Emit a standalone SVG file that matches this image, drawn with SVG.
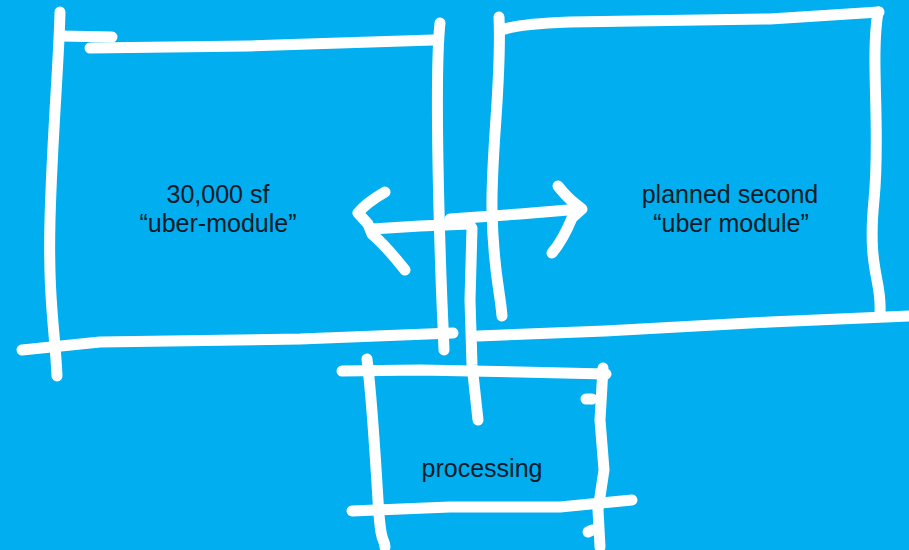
<svg xmlns="http://www.w3.org/2000/svg" width="909" height="550" viewBox="0 0 909 550">
<style>
.s{fill:none;stroke:#ffffff;stroke-width:11;stroke-linecap:round;stroke-linejoin:round}
.t{font-family:"Liberation Sans",Arial,sans-serif;font-size:25px;fill:#0b1a28;text-anchor:middle}
</style>
<rect width="909" height="550" fill="#01AEEF"/>
<g id="box1">
<path class="s" d="M60 12 C59 60 52 140 50 220 S55 330 57 376"/>
<path class="s" d="M60 36 L112 37"/>
<path class="s" d="M90 48 L250 46 L433 40"/>
<path class="s" d="M440 23 C436 60 437 130 439 210 S442 300 444 350"/>
<path class="s" d="M22 350 L100 342 L300 339 L453 333"/>
<text class="t" x="218" y="203">30,000 sf</text>
<text class="t" x="218" y="232">“uber-module”</text>
</g>
<g id="box2">
<path class="s" d="M499 17 C502 80 491 150 492 210 S500 290 502 316"/>
<path class="s" d="M505 29 Q520 24 570 22 L770 19 L879 12"/>
<path class="s" d="M878 12 C870 60 881 130 874 200 S882 280 880 312"/>
<path class="s" d="M478 336 L605 331 L770 322 L909 316"/>
<text class="t" x="730" y="203">planned second</text>
<text class="t" x="731" y="232">“uber module”</text>
</g>
<g id="processing">
<path class="s" d="M342 371 L420 370 L520 372 L606 374"/>
<path class="s" d="M367 359 C372 400 375 450 378 500 S384 535 385 547"/>
<path class="s" d="M603 368 L600 420 L604 470 L598 510 L600 547"/>
<path class="s" d="M586 399 L592 399"/>
<path class="s" d="M588 532 L592 530"/>
<path class="s" d="M352 511 L450 507 L560 507 L632 500"/>
<text class="t" x="482" y="477">processing</text>
</g>
<g id="connectors">
<path class="s" d="M372 229 L420 226 L470 224"/>
<path class="s" d="M385 192 Q366 203 358 213 L368 224 L372 234 Q386 246 405 270"/>
<path class="s" d="M450 219 L520 214 L580 209"/>
<path class="s" d="M558 186 Q566 196 572 201 L582 209 L572 218 Q563 240 552 253"/>
<path class="s" d="M472 228 L470 300 L472 365 L478 420"/>
</g>
</svg>
